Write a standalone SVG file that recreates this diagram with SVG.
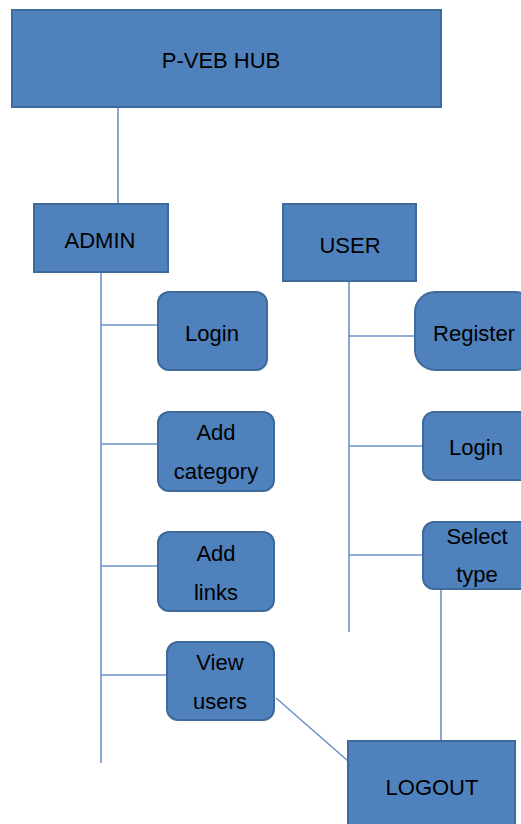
<svg xmlns="http://www.w3.org/2000/svg" width="521" height="824" viewBox="0 0 521 824">
<style>
.box{fill:#4f81bd;stroke:#3f6a9c;stroke-width:2}
.ln{stroke:#6a93c8;stroke-width:1.6;fill:none}
text{font-family:"Liberation Sans",Arial,sans-serif;font-size:22px;fill:#000;text-anchor:middle}
</style>
<rect width="521" height="824" fill="#fff"/>
<g id="connectors">
<line class="ln" x1="118" y1="108" x2="118" y2="203"/>
<line class="ln" x1="101" y1="272" x2="101" y2="763"/>
<line class="ln" x1="101" y1="325" x2="158" y2="325"/>
<line class="ln" x1="101" y1="444" x2="158" y2="444"/>
<line class="ln" x1="101" y1="566" x2="158" y2="566"/>
<line class="ln" x1="101" y1="675" x2="167" y2="675"/>
<line class="ln" x1="349" y1="281" x2="349" y2="632"/>
<line class="ln" x1="349" y1="336" x2="415" y2="336"/>
<line class="ln" x1="349" y1="446" x2="423" y2="446"/>
<line class="ln" x1="349" y1="555" x2="423" y2="555"/>
<line class="ln" x1="441" y1="589" x2="441" y2="741"/>
<line class="ln" x1="276" y1="698" x2="348" y2="761"/>
</g>
<g id="hub"><rect class="box" x="12" y="10" width="429" height="97"/><text x="221" y="68" font-size="20">P-VEB HUB</text></g>
<g id="admin"><rect class="box" x="34" y="204" width="134" height="68"/><text x="100" y="248">ADMIN</text></g>
<g id="user"><rect class="box" x="283" y="204" width="133" height="77"/><text x="350" y="253" font-size="20">USER</text></g>
<g id="admin-login"><rect class="box" x="158" y="292" width="109" height="78" rx="11"/><text x="212" y="341">Login</text></g>
<g id="add-category"><rect class="box" x="158" y="412" width="116" height="79" rx="11"/><text x="216" y="440">Add</text><text x="216" y="479">category</text></g>
<g id="add-links"><rect class="box" x="158" y="532" width="116" height="79" rx="11"/><text x="216" y="561">Add</text><text x="216" y="600">links</text></g>
<g id="view-users"><rect class="box" x="167" y="642" width="107" height="78" rx="11"/><text x="220" y="670">View</text><text x="220" y="709">users</text></g>
<g id="register"><rect class="box" x="415" y="292" width="120" height="78" rx="20"/><text x="474" y="341">Register</text></g>
<g id="user-login"><rect class="box" x="423" y="412" width="112" height="68" rx="11"/><text x="476" y="455">Login</text></g>
<g id="select-type"><rect class="box" x="423" y="522" width="112" height="67" rx="11"/><text x="477" y="544">Select</text><text x="477" y="582">type</text></g>
<g id="logout"><rect class="box" x="348" y="741" width="167" height="95"/><text x="432" y="795" font-size="20">LOGOUT</text></g>
</svg>
